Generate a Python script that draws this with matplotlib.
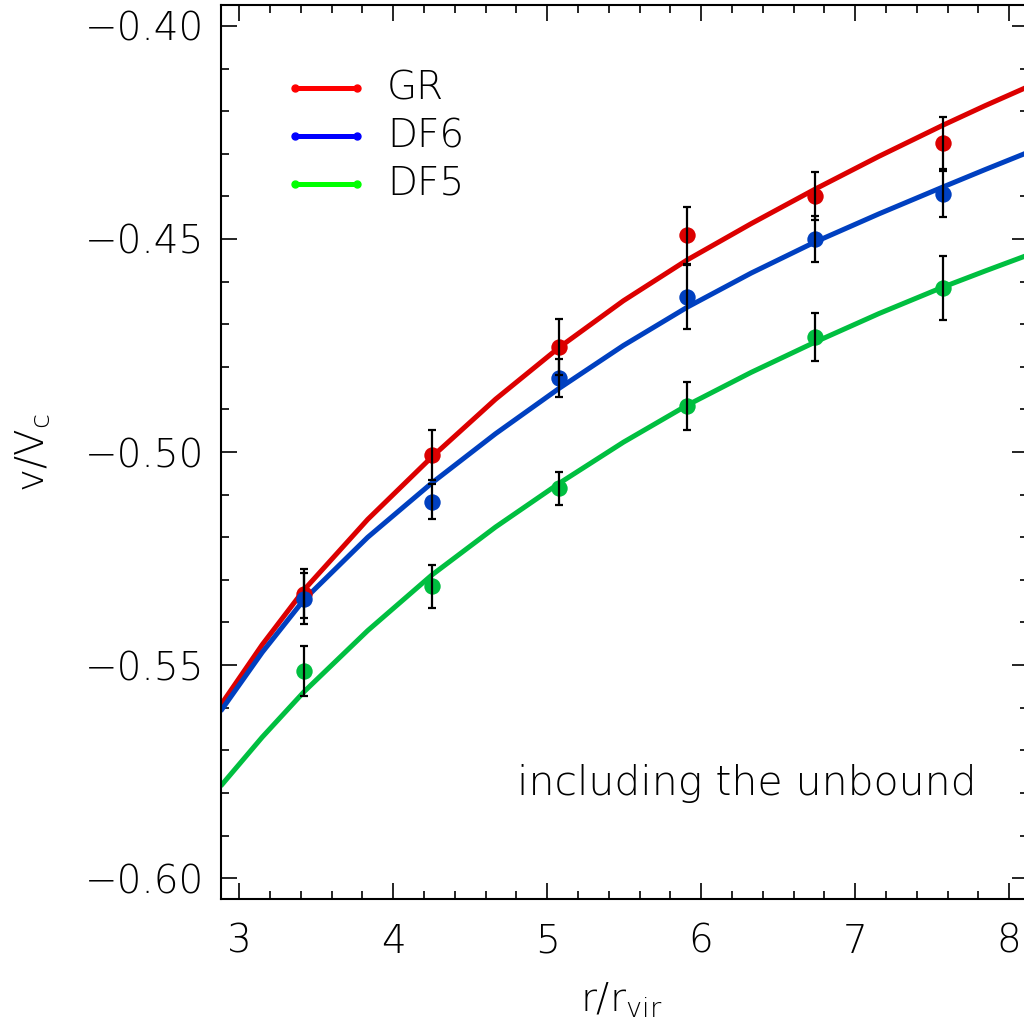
import numpy as np
import matplotlib.pyplot as plt
from matplotlib.ticker import MultipleLocator

# measured points (r/r_vir, v/V_c, error)
r_pts = [3.42, 4.25, 5.08, 5.91, 6.74, 7.57]
gr_v = [-0.5332, -0.5007, -0.4754, -0.4491, -0.4399, -0.4275]
gr_err = [0.0058, 0.0058, 0.0066, 0.0067, 0.0056, 0.0061]
df6_v = [-0.5344, -0.5117, -0.4826, -0.4636, -0.4500, -0.4394]
df6_err = [0.0060, 0.0041, 0.0045, 0.0076, 0.0053, 0.0054]
df5_v = [-0.5514, -0.5315, -0.5085, -0.4892, -0.4730, -0.4615]
df5_err = [0.0059, 0.0050, 0.0039, 0.0056, 0.0056, 0.0075]

# fitted curves
r_fit = [2.88, 3.15, 3.42, 3.835, 4.25, 4.665, 5.08, 5.495, 5.91,
         6.325, 6.74, 7.155, 7.57, 7.845, 8.12]
gr_fit = [-0.5594, -0.5452, -0.5324, -0.5158, -0.5012, -0.4876, -0.4754, -0.4645,
          -0.4549, -0.4464, -0.4383, -0.4306, -0.4233, -0.4187, -0.4143]
df6_fit = [-0.5608, -0.5470, -0.5347, -0.5200, -0.5073, -0.4957, -0.4850, -0.4750,
           -0.4660, -0.4580, -0.4507, -0.4441, -0.4378, -0.4337, -0.4297]
df5_fit = [-0.5784, -0.5669, -0.5563, -0.5419, -0.5289, -0.5176, -0.5073, -0.4977,
           -0.4890, -0.4813, -0.4742, -0.4675, -0.4613, -0.4575, -0.4538]

labels = ["GR", "DF6", "DF5"]
curve_cols = ["#dc0000", "#0040c0", "#00bf40"]
legend_cols = ["#ff0000", "#0000ff", "#00ff00"]

plt.rcParams['font.family'] = ['DejaVu Sans']
plt.rcParams['font.weight'] = 'light'
plt.rcParams['mathtext.fontset'] = 'custom'
plt.rcParams['mathtext.rm'] = 'DejaVu Sans:light'
plt.rcParams['mathtext.it'] = 'DejaVu Sans:light'

fig = plt.figure(figsize=(10.24, 10.31), dpi=100)
ax = fig.add_axes([0.2155, 0.128, 0.788, 0.8671])

fits = [gr_fit, df6_fit, df5_fit]
vals = [gr_v, df6_v, df5_v]
errs = [gr_err, df6_err, df5_err]
for f, v, e, c in zip(fits, vals, errs, curve_cols):
    ax.plot(r_fit, f, color=c, lw=3.6, zorder=2, solid_capstyle='butt',
            solid_joinstyle='round')
    ax.plot(r_pts, v, 'o', color=c, ms=11.8, mec='none', zorder=3)
    ax.errorbar(r_pts, v, yerr=e, fmt='none', ecolor='black', elinewidth=1.6,
                capsize=3, capthick=1.6, zorder=4)

ax.set_xlim(2.88, 8.12)
ax.set_ylim(-0.6049, -0.3951)
ax.xaxis.set_major_locator(MultipleLocator(1))
ax.xaxis.set_minor_locator(MultipleLocator(0.2))
ax.yaxis.set_major_locator(MultipleLocator(0.05))
ax.yaxis.set_minor_locator(MultipleLocator(0.01))
ax.yaxis.set_major_formatter(plt.FuncFormatter(lambda v, p: f"{v:.2f}".replace('-', '\u2212')))
ax.tick_params(which='both', direction='in', top=True, right=True, width=1.2,
               labelsize=28)
ax.tick_params(which='major', length=11.5)
ax.tick_params(which='minor', length=5.8)
ax.tick_params(axis='x', pad=17)
ax.tick_params(axis='y', pad=12)
for s in ax.spines.values():
    s.set_linewidth(1.5)

# legend drawn by hand
for i, (lab, c) in enumerate(zip(labels, legend_cols)):
    yy = 0.907 - i * 0.0535
    ax.plot([0.092, 0.169], [yy, yy], color=c, lw=3.6, marker='o', ms=5,
            transform=ax.transAxes, clip_on=False)
    ax.text(0.206, yy, lab, transform=ax.transAxes, fontsize=28,
            va='center', ha='left')

ax.text(0.367, 0.116, "including the unbound", transform=ax.transAxes,
        fontsize=29.5, va='baseline', ha='left')

fig.text(0.032, 0.561, r'v/V$_\mathrm{c}$', rotation=90, fontsize=28,
         ha='center', va='center')
fig.text(0.607, 0.03, r'r/r$_\mathrm{vir}$', fontsize=28,
         ha='center', va='center')

fig.savefig("out.png", dpi=100)
